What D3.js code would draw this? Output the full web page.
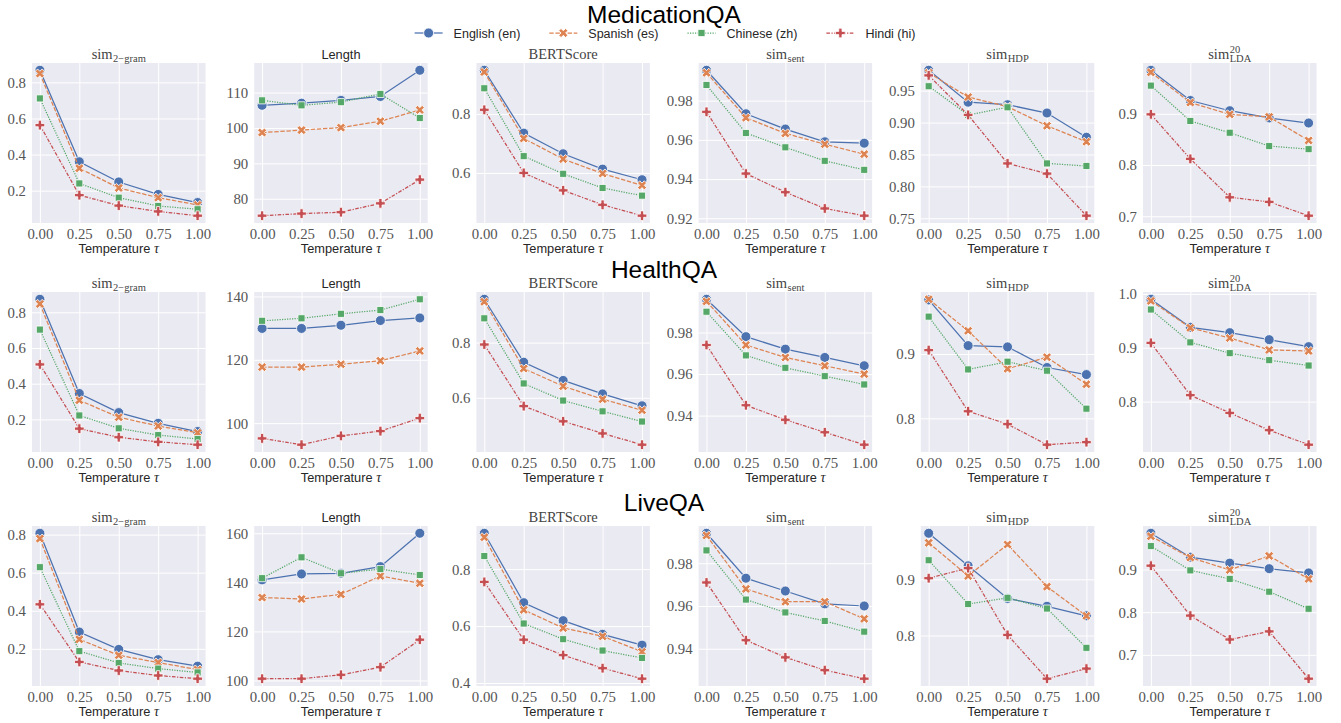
<!DOCTYPE html>
<html><head><meta charset="utf-8">
<script src="https://cdn.jsdelivr.net/npm/d3@7"></script>
<style>body{margin:0;background:#fff}</style>
</head><body><svg id="c" width="1341" height="723"></svg>
<script>
// ---------- DATA ----------
const temperatures = [0, 0.25, 0.5, 0.75, 1.0];
const xTickLabels = ["0.00", "0.25", "0.50", "0.75", "1.00"];
const languages = ["English (en)", "Spanish (es)", "Chinese (zh)", "Hindi (hi)"];
const datasets = ["MedicationQA", "HealthQA", "LiveQA"];
const metrics = ["sim_2-gram", "Length", "BERTScore", "sim_sent", "sim_HDP", "sim_LDA^20"];

// each array: rows = en, es, zh, hi ; columns = temperatures
const med_sim2gram = [[0.867,0.360,0.248,0.179,0.134],[0.849,0.324,0.215,0.161,0.121],[0.711,0.240,0.161,0.115,0.097],[0.563,0.175,0.117,0.085,0.061]];
const med_length   = [[106.4,107.0,107.8,108.9,116.3],[98.7,99.4,100.1,101.9,105.1],[107.8,106.4,107.3,109.6,102.8],[75.2,75.8,76.2,78.7,85.4]];
const med_bert     = [[0.948,0.735,0.665,0.613,0.577],[0.942,0.717,0.647,0.598,0.558],[0.887,0.657,0.597,0.549,0.523],[0.814,0.600,0.541,0.492,0.455]];
const med_sent     = [[0.9955,0.9733,0.9655,0.9590,0.9583],[0.9942,0.9713,0.9633,0.9578,0.9527],[0.9880,0.9635,0.9562,0.9493,0.9447],[0.9743,0.9428,0.9333,0.9250,0.9213]];
const med_hdp      = [[0.982,0.932,0.928,0.915,0.877],[0.978,0.940,0.925,0.895,0.870],[0.957,0.912,0.924,0.836,0.832],[0.974,0.912,0.836,0.820,0.754]];
const med_lda      = [[0.985,0.926,0.906,0.892,0.882],[0.981,0.922,0.899,0.894,0.848],[0.955,0.886,0.863,0.837,0.831],[0.899,0.812,0.737,0.728,0.701]];

const health_sim2gram = [[0.873,0.345,0.238,0.178,0.132],[0.847,0.307,0.212,0.163,0.125],[0.703,0.222,0.150,0.112,0.090],[0.508,0.148,0.100,0.074,0.058]];
const health_length   = [[129.9,129.9,130.9,132.4,133.2],[117.7,117.7,118.6,119.7,122.8],[132.3,133.1,134.5,135.7,139.1],[95.2,93.2,96.0,97.5,101.6]];
const health_bert     = [[0.957,0.729,0.663,0.614,0.571],[0.948,0.706,0.642,0.595,0.555],[0.888,0.652,0.590,0.551,0.514],[0.793,0.570,0.515,0.471,0.430]];
const health_sent     = [[0.996,0.978,0.972,0.968,0.964],[0.995,0.974,0.968,0.964,0.960],[0.990,0.969,0.963,0.959,0.955],[0.974,0.945,0.938,0.932,0.926]];
const health_hdp      = [[0.984,0.913,0.911,0.879,0.868],[0.985,0.936,0.877,0.895,0.853],[0.958,0.876,0.888,0.874,0.815],[0.906,0.811,0.791,0.759,0.763]];
const health_lda      = [[0.990,0.938,0.928,0.915,0.902],[0.987,0.937,0.918,0.896,0.894],[0.971,0.910,0.890,0.877,0.867],[0.909,0.812,0.779,0.747,0.720]];

const live_sim2gram = [[0.807,0.288,0.197,0.143,0.109],[0.779,0.250,0.166,0.128,0.091],[0.629,0.188,0.126,0.096,0.076],[0.434,0.131,0.086,0.060,0.043]];
const live_length   = [[141.0,143.4,143.7,146.4,160.0],[133.8,133.2,135.1,142.6,139.6],[141.7,150.2,143.7,145.4,143.0],[100.7,100.7,102.3,105.4,116.6]];
const live_bert     = [[0.926,0.682,0.619,0.571,0.533],[0.912,0.657,0.593,0.564,0.510],[0.846,0.609,0.554,0.514,0.488],[0.755,0.552,0.498,0.452,0.415]];
const live_sent     = [[0.994,0.973,0.967,0.961,0.960],[0.993,0.968,0.962,0.962,0.954],[0.986,0.963,0.957,0.953,0.948],[0.971,0.944,0.936,0.930,0.926]];
const live_hdp      = [[0.982,0.924,0.866,0.852,0.835],[0.965,0.906,0.962,0.887,0.835],[0.934,0.856,0.867,0.848,0.778],[0.902,0.920,0.801,0.723,0.741]];
const live_lda      = [[0.985,0.929,0.915,0.902,0.892],[0.978,0.928,0.899,0.932,0.878],[0.955,0.898,0.878,0.848,0.808],[0.909,0.792,0.736,0.755,0.644]];

const med_yticks    = [["0.2","0.4","0.6","0.8"],["80","90","100","110"],["0.6","0.8"],["0.92","0.94","0.96","0.98"],["0.75","0.80","0.85","0.90","0.95"],["0.7","0.8","0.9"]];
const health_yticks = [["0.2","0.4","0.6","0.8"],["100","120","140"],["0.6","0.8"],["0.94","0.96","0.98"],["0.8","0.9"],["0.8","0.9","1.0"]];
const live_yticks   = [["0.2","0.4","0.6","0.8"],["100","120","140","160"],["0.4","0.6","0.8"],["0.94","0.96","0.98"],["0.8","0.9"],["0.7","0.8","0.9"]];

const panelData = [
  [med_sim2gram, med_length, med_bert, med_sent, med_hdp, med_lda],
  [health_sim2gram, health_length, health_bert, health_sent, health_hdp, health_lda],
  [live_sim2gram, live_length, live_bert, live_sent, live_hdp, live_lda]
];
const panelTicks = [med_yticks, health_yticks, live_yticks];

// ---------- STYLE ----------
const colors = ["#4C72B0", "#DD8452", "#55A868", "#C44E52"];
const dashes = [null, "4.4,1.7", "1.2,1.3", "3.6,1.5,1.2,1.5"];
const symbolSpecs = [
  {type: d3.symbolCircle, size: 78, rot: 0},
  {type: d3.symbolCross, size: 52, rot: 45},
  {type: d3.symbolSquare, size: 50, rot: 0},
  {type: d3.symbolCross, size: 52, rot: 0}
];
const SERIF = "'Liberation Serif', 'DejaVu Serif', serif";
const SANS = "'Liberation Sans', Arial, sans-serif";
const TICK_FS = 14.8;

const svg = d3.select("#c");
const colLeft = i => 32 + i * 222.2;
const PW = 173.5, PH = 160;
const rowTop = [63, 292, 526];
const supBaseline = [23, 278, 511];

function drawTitle(g, m, cx, by) {
  if (m === 1 || m === 2) {
    g.append("text").attr("x", cx).attr("y", by).attr("text-anchor", "middle")
      .attr("font-family", m === 1 ? SANS : SERIF).attr("font-size", m === 1 ? 12.8 : 14.5)
      .attr("fill", m === 1 ? "#262626" : "#444").text(metrics[m]);
    return;
  }
  const tg = g.append("g");
  const main = tg.append("text").attr("x", 0).attr("y", by).attr("font-family", SERIF)
    .attr("font-size", 14.5).attr("fill", "#444").text("sim");
  const w = main.node().getComputedTextLength() + 0.5;
  let sub = "", sup = null;
  if (m === 0) sub = "2\u2212gram";
  if (m === 3) sub = "sent";
  if (m === 4) sub = "HDP";
  if (m === 5) { sub = "LDA"; sup = "20"; }
  const st = tg.append("text").attr("x", w).attr("y", by + 3).attr("font-family", SERIF)
    .attr("font-size", 10.5).attr("fill", "#444").text(sub);
  let tw = w + st.node().getComputedTextLength();
  if (sup) {
    const sp = tg.append("text").attr("x", w).attr("y", by - 6.5).attr("font-family", SERIF)
      .attr("font-size", 10.5).attr("fill", "#444").text(sup);
    tw = Math.max(tw, w + sp.node().getComputedTextLength());
  }
  tg.attr("transform", `translate(${cx - tw / 2},0)`);
}

function markerPath(s) {
  return d3.symbol().type(s.type).size(s.size)();
}

datasets.forEach((ds, r) => {
  svg.append("text").attr("x", 664).attr("y", supBaseline[r]).attr("text-anchor", "middle")
    .attr("font-family", SANS).attr("font-size", 24.5).attr("fill", "#000").text(ds);

  metrics.forEach((mname, c) => {
    const data = panelData[r][c];
    const ticks = panelTicks[r][c];
    const x0 = colLeft(c), y0 = rowTop[r];
    const all = data.flat();
    const lo = d3.min(all), hi = d3.max(all), pad = (hi - lo) * 0.05;
    const x = d3.scaleLinear().domain([-0.05, 1.05]).range([x0, x0 + PW]);
    const y = d3.scaleLinear().domain([lo - pad, hi + pad]).range([y0 + PH, y0]);
    const g = svg.append("g");
    g.append("rect").attr("x", x0).attr("y", y0).attr("width", PW).attr("height", PH).attr("fill", "#EAEAF2");

    const gx = g.append("g").attr("transform", `translate(0,${y0 + PH})`)
      .call(d3.axisBottom(x).tickValues(temperatures).tickSize(PH).tickFormat((d, i) => xTickLabels[i]));
    gx.select(".domain").remove();
    gx.selectAll(".tick line").attr("stroke", "#fff").attr("stroke-width", 1).attr("transform", `translate(0,${-PH})`);
    gx.selectAll(".tick text").attr("y", 16).attr("dy", 0).attr("font-family", SERIF).attr("font-size", TICK_FS).attr("fill", "#555");

    const yvals = ticks.map(Number);
    const gy = g.append("g").attr("transform", `translate(${x0},0)`)
      .call(d3.axisLeft(y).tickValues(yvals).tickSize(-PW).tickFormat((d, i) => ticks[i]));
    gy.select(".domain").remove();
    gy.selectAll(".tick line").attr("stroke", "#fff").attr("stroke-width", 1);
    gy.selectAll(".tick text").attr("x", -6).attr("dy", "0.33em").attr("font-family", SERIF).attr("font-size", TICK_FS).attr("fill", "#555");

    const line = d3.line().x((d, i) => x(temperatures[i])).y(d => y(d));
    data.forEach((series, li) => {
      g.append("path").attr("d", line(series)).attr("fill", "none").attr("stroke", colors[li])
        .attr("stroke-width", 1.25).attr("stroke-dasharray", dashes[li]);
      g.selectAll(null).data(series).enter().append("path")
        .attr("d", markerPath(symbolSpecs[li]))
        .attr("transform", (d, i) => `translate(${x(temperatures[i])},${y(d)}) rotate(${symbolSpecs[li].rot})`)
        .attr("fill", colors[li]).attr("stroke", "#fff").attr("stroke-width", 0.8);
    });

    drawTitle(g, c, x0 + PW / 2, y0 - 4);
    const xl = g.append("text").attr("x", x0 + PW / 2).attr("y", y0 + PH + 30).attr("text-anchor", "middle")
      .attr("font-family", SANS).attr("font-size", 12.8).attr("fill", "#262626");
    xl.append("tspan").text("Temperature ");
    xl.append("tspan").attr("font-family", SERIF).attr("font-style", "italic").attr("font-size", 14).text("\u03C4");
  });
});

// ---------- LEGEND ----------
const leg = svg.append("g");
let lx = 0;
languages.forEach((name, i) => {
  const it = leg.append("g").attr("transform", `translate(${lx},0)`);
  it.append("line").attr("x1", 0).attr("x2", 28).attr("y1", 33).attr("y2", 33)
    .attr("stroke", colors[i]).attr("stroke-width", 1.25).attr("stroke-dasharray", dashes[i]);
  it.append("path").attr("d", markerPath(symbolSpecs[i]))
    .attr("transform", `translate(14,33) rotate(${symbolSpecs[i].rot})`)
    .attr("fill", colors[i]).attr("stroke", "#fff").attr("stroke-width", 0.8);
  const t = it.append("text").attr("x", 39).attr("y", 37.5).attr("font-family", SANS)
    .attr("font-size", 12.5).attr("fill", "#262626").text(name);
  lx += 39 + t.node().getComputedTextLength() + 29;
});
const totalW = lx - 29;
leg.attr("transform", `translate(${665 - totalW / 2},0)`);
</script></body></html>
